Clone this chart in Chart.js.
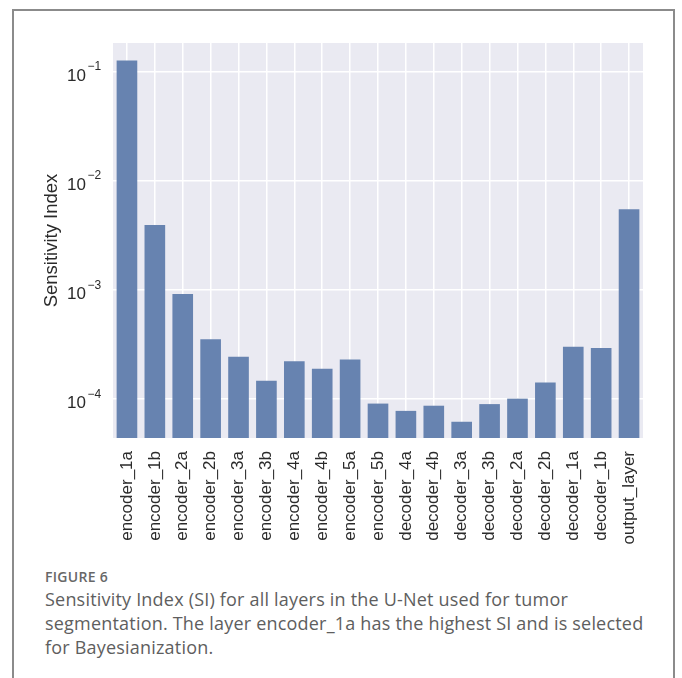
<!DOCTYPE html>
<html>
<head>
<meta charset="utf-8">
<script src="https://cdn.jsdelivr.net/npm/chart.js@4/dist/chart.umd.min.js"></script>
<style>
  html, body { margin: 0; padding: 0; background: #ffffff; }
  body { width: 682px; height: 678px; position: relative; overflow: hidden; }
  #frame {
    position: absolute; left: 12px; top: 9px; width: 663px; height: 720px;
    border: 2px solid #8b8b8b; border-bottom: none; box-sizing: border-box;
  }
  #plot { position: absolute; left: 0; top: 0; }
  #caption {
    position: absolute; left: 45px; top: 567px; width: 630px;
    font-family: "Open Sans", "Noto Sans", sans-serif; color: #5e5e5e;
  }
  #caption .fig { font-size: 14px; font-weight: 600; line-height: 20px; color: #676767; letter-spacing: 0.3px; }
  #caption .line { font-size: 18px; line-height: 24px; letter-spacing: 0.2px; white-space: nowrap; }
</style>
</head>
<body>
<div id="frame"></div>
<canvas id="plot" width="682" height="560"></canvas>
<div id="caption">
  <div class="fig">FIGURE 6</div>
  <div class="line">Sensitivity Index (SI) for all layers in the U-Net used for tumor</div>
  <div class="line">segmentation. The layer encoder_1a has the highest SI and is selected</div>
  <div class="line">for Bayesianization.</div>
</div>
<script>
// Layers of the U-Net, in network order
const layers = [
  'encoder_1a', 'encoder_1b', 'encoder_2a', 'encoder_2b', 'encoder_3a',
  'encoder_3b', 'encoder_4a', 'encoder_4b', 'encoder_5a', 'encoder_5b',
  'decoder_4a', 'decoder_4b', 'decoder_3a', 'decoder_3b', 'decoder_2a',
  'decoder_2b', 'decoder_1a', 'decoder_1b', 'output_layer'
];

// Sensitivity Index per layer
const sensitivity = [
  0.127, 0.00394, 0.00092, 0.000353, 0.000244,
  0.000147, 0.000222, 0.000190, 0.000231, 0.000091,
  0.000078, 0.000087, 0.000062, 0.000090, 0.000101,
  0.000142, 0.000302, 0.000294, 0.0055
];

// Decade ticks on the log axis (exponents of ten)
const decadeExponents = [-4, -3, -2, -1];

// Visible range of the log axis
const yMin = 4.4e-5;
const yMax = 0.184;

const FONT = '"Liberation Sans", Arial, sans-serif';
const TEXT = '#2a2a2a';

// Grey panel behind the grid
const panelBackground = {
  id: 'panelBackground',
  beforeDraw(chart) {
    const { ctx, chartArea: a } = chart;
    ctx.save();
    ctx.fillStyle = '#eaeaf2';
    ctx.fillRect(a.left, a.top, a.right - a.left, a.bottom - a.top);
    ctx.restore();
  }
};

// Power-of-ten tick labels with raised exponents
const decadeLabels = {
  id: 'decadeLabels',
  afterDraw(chart) {
    const { ctx, chartArea: a } = chart;
    const y = chart.scales.y;
    ctx.save();
    ctx.fillStyle = TEXT;
    ctx.textBaseline = 'alphabetic';
    decadeExponents.forEach(e => {
      const py = y.getPixelForValue(Math.pow(10, e));
      ctx.font = '17px ' + FONT;
      ctx.textAlign = 'right';
      ctx.fillText('10', a.left - 27, py + 9);
      ctx.font = '12px ' + FONT;
      ctx.textAlign = 'left';
      ctx.fillText('\u2212' + Math.abs(e), a.left - 25.5, py - 1.5);
    });
    ctx.restore();
  }
};

new Chart(document.getElementById('plot'), {
  type: 'bar',
  data: {
    labels: layers,
    datasets: [{
      data: sensitivity,
      backgroundColor: 'rgb(103,131,176)',
      borderWidth: 0,
      barPercentage: 0.74,
      categoryPercentage: 1.0
    }]
  },
  options: {
    responsive: false,
    animation: false,
    devicePixelRatio: 1,
    layout: { padding: { top: 43, right: 39, left: 0, bottom: 0 } },
    plugins: { legend: { display: false }, tooltip: { enabled: false } },
    scales: {
      x: {
        offset: true,
        grid: { color: '#ffffff', lineWidth: 1.5, offset: false, drawTicks: false },
        border: { display: false },
        ticks: {
          autoSkip: false, minRotation: 90, maxRotation: 90, padding: 13,
          color: TEXT, font: { family: FONT, size: 17 }
        },
        afterFit(scale) { scale.height = 122; }
      },
      y: {
        type: 'logarithmic',
        min: yMin,
        max: yMax,
        afterBuildTicks(scale) {
          scale.ticks = decadeExponents.map(e => ({ value: Math.pow(10, e) }));
        },
        grid: { color: '#ffffff', lineWidth: 1.5, drawTicks: false },
        border: { display: false },
        ticks: { display: false },
        title: {
          display: true, text: 'Sensitivity Index', color: TEXT,
          font: { family: FONT, size: 18.5 },
          padding: { top: 41, bottom: 0 }
        },
        afterFit(scale) { scale.width = 113; }
      }
    }
  },
  plugins: [panelBackground, decadeLabels]
});
</script>
</body>
</html>
